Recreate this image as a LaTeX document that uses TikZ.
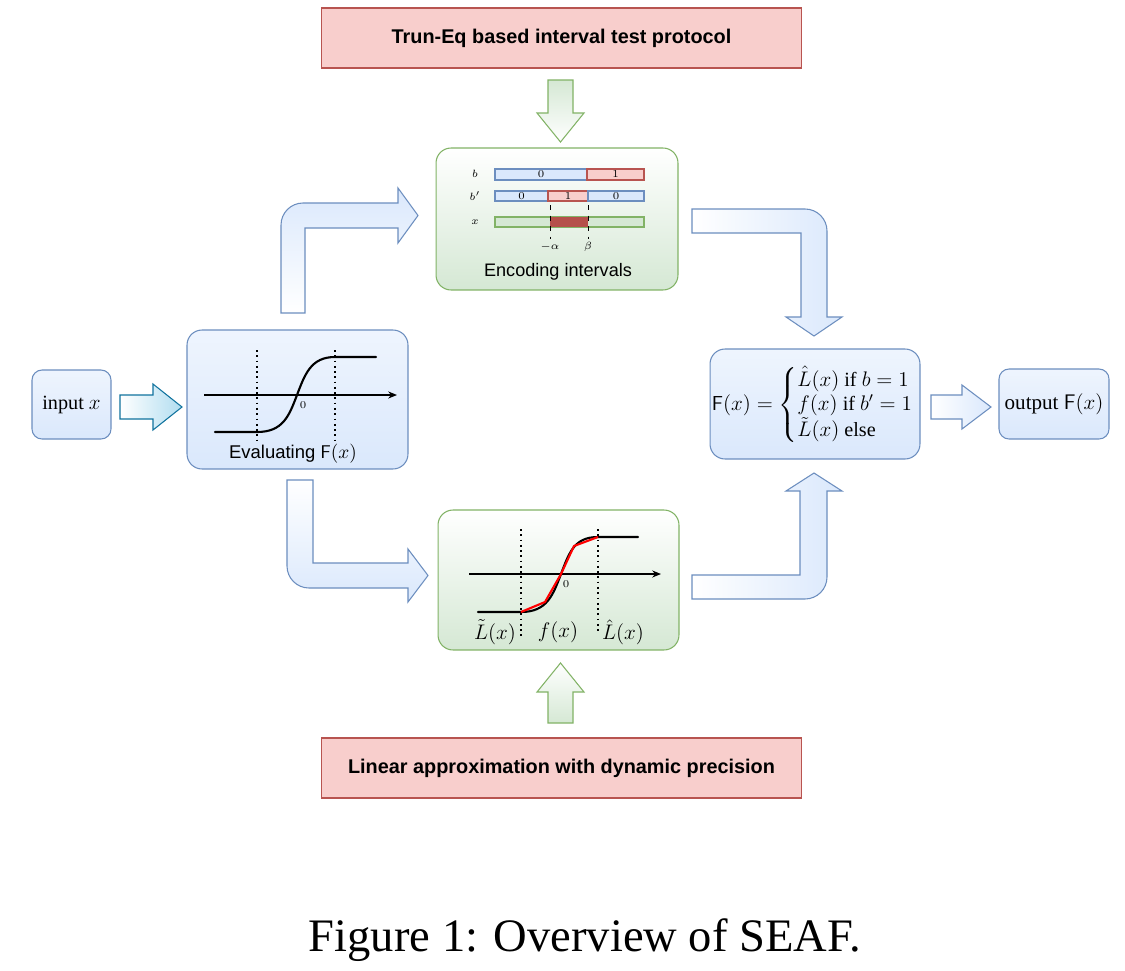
\documentclass[tikz,border=0pt]{standalone}
\usepackage{amsmath}
\usepackage{fontspec}
\usetikzlibrary{arrows.meta}
\newfontfamily\helv{Liberation Sans}
\newfontfamily\tms{Liberation Serif}
\definecolor{redfill}{HTML}{F8CECC}
\definecolor{redline}{HTML}{B85450}
\definecolor{greenfill}{HTML}{D5E8D4}
\definecolor{greenline}{HTML}{82B366}
\definecolor{bluefill}{HTML}{DAE8FC}
\definecolor{blueline}{HTML}{6C8EBF}
\definecolor{cyanfill}{HTML}{B1DDF0}
\definecolor{cyanline}{HTML}{10739E}
\definecolor{darkred}{HTML}{B5504B}

\begin{document}
\begin{tikzpicture}[x=0.02cm,y=-0.02cm,
  redbox/.style={draw=redline,fill=redfill,line width=0.6pt,minimum width=9.62cm,minimum height=1.2cm,
    font=\helv\bfseries\fontsize{11.3}{13}\selectfont},
  greenbox/.style={draw=greenline,top color=white,bottom color=greenfill,line width=0.6pt,rounded corners=0.3cm},
  bluebox/.style={draw=blueline,top color=bluefill!45,bottom color=bluefill,line width=0.6pt,rounded corners=0.3cm},
  bararrow/.style={draw=blueline,line width=0.6pt},
  tinylbl/.style={inner sep=0pt,font=\fontsize{5.8}{7}\selectfont},
  sanslbl/.style={inner sep=0pt,font=\helv\fontsize{10.3}{12}\selectfont},
  seriflbl/.style={inner sep=0pt,font=\tms\fontsize{11.5}{13.4}\selectfont},
  cell/.style={line width=0.6pt},
  curve/.style={line width=1.2pt,line cap=round},
  guide/.style={dotted,line width=1pt}]
\path[use as bounding box,fill=white] (0,0) rectangle (1125,970);

% boxes
\node[redbox] (proto) at (561.5,38) {Trun-Eq based interval test protocol};
\node[redbox] (approx) at (561.5,768) {Linear approximation with dynamic precision};
\node[greenbox,minimum width=4.84cm,minimum height=2.84cm] (enc) at (557,219) {};
\node[greenbox,minimum width=4.82cm,minimum height=2.8cm] (lin) at (558.5,580) {};
\node[bluebox,minimum width=4.42cm,minimum height=2.78cm] (evalbox) at (297.5,399.5) {};
\node[bluebox,minimum width=4.2cm,minimum height=2.2cm] (formula) at (815,404) {};
\node[bluebox,rounded corners=0.2cm,minimum width=1.58cm,minimum height=1.38cm] (input) at (71.5,404.5) {};
\node[bluebox,rounded corners=0.2cm,minimum width=2.2cm,minimum height=1.4cm] (output) at (1054,404) {};

% texts
\node[seriflbl] (inputlbl) at (input) {input $x$};
\node[seriflbl,font=\tms\fontsize{12}{14}\selectfont] (outputlbl) at (output) {output $\mathsf{F}(x)$};
\node[seriflbl,font=\tms\fontsize{11.5}{13.6}\selectfont] (formulalbl) at (813,405)
  {$\mathsf{F}(x) = \left\{\begin{array}{@{}l@{}}
    \hat{L}(x)\text{ if }b=1\\
    f(x)\text{ if }b'=1\\
    \tilde{L}(x)\text{ else}
  \end{array}\right.$};
\node[sanslbl] (enclbl) at (558,272) {Encoding intervals};
\node[sanslbl,font=\helv\fontsize{10.5}{12}\selectfont] (evallbl) at (293,454) {Evaluating $\mathsf{F}(x)$};

% straight arrows
\draw[draw=cyanline,line width=0.6pt,left color=white,right color=cyanfill]
  (120,395) -- (153,395) -- (153,384) -- (182,407) -- (153,430) -- (153,419) -- (120,419) -- cycle;
\draw[bararrow,left color=white,right color=bluefill]
  (931,395) -- (962,395) -- (962,385) -- (991,407) -- (962,429) -- (962,419) -- (931,419) -- cycle;
\draw[draw=greenline,line width=0.6pt,top color=greenfill,bottom color=white]
  (548,80) -- (573,80) -- (573,113) -- (584,113) -- (560.5,142) -- (537,113) -- (548,113) -- cycle;
\draw[draw=greenline,line width=0.6pt,top color=white,bottom color=greenfill]
  (548,723) -- (573,723) -- (573,692) -- (584,692) -- (560.5,663) -- (537,692) -- (548,692) -- cycle;

% bent arrows
\draw[bararrow,top color=bluefill,bottom color=white]
  (281,313) -- (281,225) .. controls (281,212.85) and (290.85,203) .. (303,203) -- (398,203) -- (398,188)
  -- (418,215.5) -- (398,243) -- (398,228) -- (305,228) -- (305,313) -- cycle;
\draw[bararrow,left color=white,right color=bluefill]
  (692,209) -- (805,209) .. controls (817.15,209) and (827,218.85) .. (827,231) -- (827,317) -- (842,317)
  -- (814,336) -- (786,317) -- (801,317) -- (801,233) -- (692,233) -- cycle;
\draw[bararrow,top color=white,bottom color=bluefill]
  (287,480) -- (313,480) -- (313,563) -- (408,563) -- (408,549) -- (428,575.5) -- (408,602) -- (408,588)
  -- (309,588) .. controls (296.85,588) and (287,578.15) .. (287,566) -- cycle;
\draw[bararrow,left color=white,right color=bluefill]
  (692,575) -- (800,575) -- (800,491) -- (786,491) -- (814,473) -- (842,491) -- (827,491) -- (827,577)
  .. controls (827,589.15) and (817.15,599) .. (805,599) -- (692,599) -- cycle;

% encoding intervals
\node[tinylbl] (blbl) at (475,174) {$b$};
\node[tinylbl] (bplbl) at (475,196) {$b'$};
\node[tinylbl] (xlbl) at (475,222) {$x$};
\draw[cell,draw=blueline,fill=bluefill] (495,169) rectangle (587,180);
\draw[cell,draw=redline,fill=redfill] (587,169) rectangle (644,180);
\draw[cell,draw=blueline,fill=bluefill] (495,191) rectangle (548,201);
\draw[cell,draw=redline,fill=redfill] (548,191) rectangle (588,201);
\draw[cell,draw=blueline,fill=bluefill] (588,191) rectangle (644,201);
\draw[cell,draw=greenline,fill=greenfill] (495,217) rectangle (644,227);
\fill[darkred] (550,217) rectangle (588,227);
\node[tinylbl] (b0) at (541,174.5) {$0$};
\node[tinylbl] (b1) at (615.5,174.5) {$1$};
\node[tinylbl] (bp0) at (521.5,196) {$0$};
\node[tinylbl] (bp1) at (568,196) {$1$};
\node[tinylbl] (bp2) at (616,196) {$0$};
\draw[dashed,line width=0.5pt] (550,205) -- (550,239);
\draw[dashed,line width=0.5pt] (588,205) -- (588,239);
\node[tinylbl] (alpha) at (550,247) {$-\alpha$};
\node[tinylbl] (beta) at (588,247) {$\beta$};

% evaluating F(x)
\draw[line width=0.7pt,-{Stealth[length=5pt,width=4pt]}] (204,395) -- (397,395);
\draw[guide] (257,350) -- (257,442);
\draw[guide] (335,350) -- (335,442);
\draw[curve] (215,432) -- (257,432) .. controls (283,432) and (289,416) .. (297,395)
  .. controls (305,374) and (311,357) .. (335,357) -- (376,357);
\node[tinylbl] (zero1) at (303,405) {$0$};

% linear approximation
\draw[line width=0.7pt,-{Stealth[length=5pt,width=4pt]}] (469,574) -- (661,574);
\draw[guide] (521,529) -- (521,638);
\draw[guide] (598,529) -- (598,632);
\draw[curve] (478,612) -- (521,612) .. controls (547,612) and (553,595) .. (561,574)
  .. controls (569,553) and (574,537) .. (598,537) -- (638,537);
\draw[red,line width=1.2pt,line join=round] (521,612) -- (545,602) -- (561,574) -- (574,546) -- (598,537);
\node[tinylbl] (zero2) at (566,584) {$0$};
\node[seriflbl] (ltilde) at (495,632) {$\tilde{L}(x)$};
\node[seriflbl] (fx) at (558,632) {$f(x)$};
\node[seriflbl] (lhat) at (623,632) {$\hat{L}(x)$};

% caption
\node[inner sep=0pt,font=\tms\fontsize{26.5}{30}\selectfont] (caption) at (585,940) {Figure 1: Overview of SEAF.};
\end{tikzpicture}
\end{document}
